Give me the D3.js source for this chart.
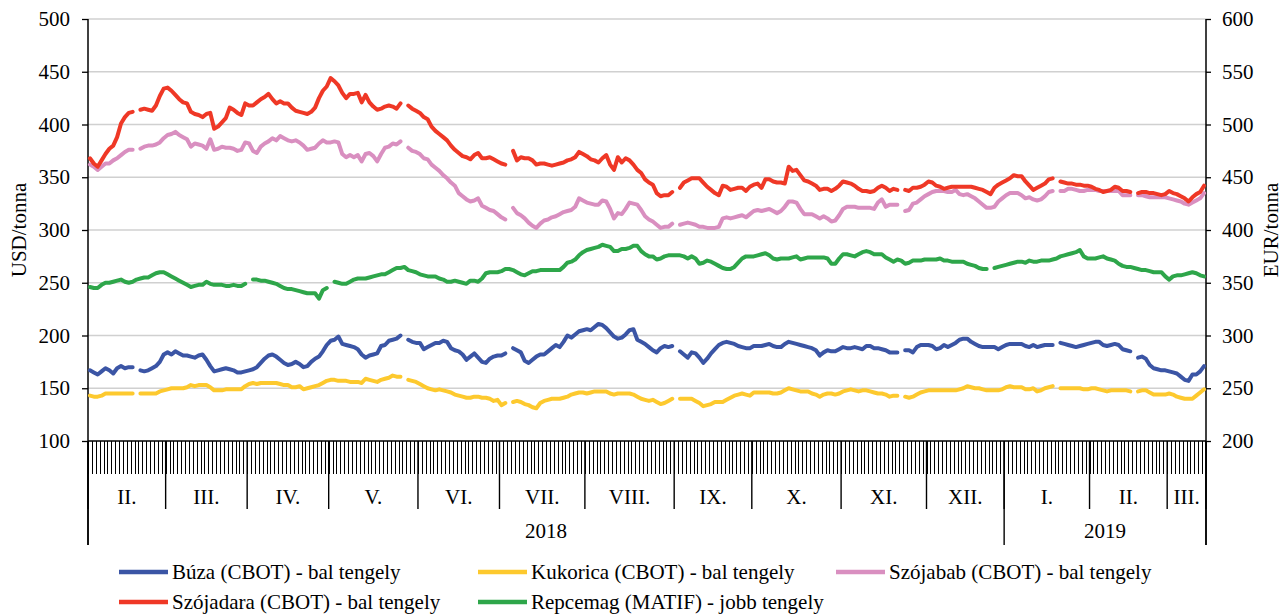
<!DOCTYPE html>
<html>
<head>
<meta charset="utf-8">
<script src="https://cdn.jsdelivr.net/npm/d3@7"></script>
<style>
body { margin: 0; background: #fff; }
text { font-family: "Liberation Serif", "Times New Roman", serif; fill: #000; }
</style>
</head>
<body>
<div id="display"></div>
<script>

// categories: trading days per month (Feb 2018 - mid Mar 2019)
var monthLabels = ["II.", "III.", "IV.", "V.", "VI.", "VII.", "VIII.", "IX.", "X.", "XI.", "XII.", "I.", "II.", "III."];
var monthDays = [20, 21, 21, 23, 21, 22, 23, 20, 23, 22, 20, 22, 20, 10];
var yearLabels = ["2018", "2019"];
var yearMonths = [11, 3];

var leftTicks = [100, 150, 200, 250, 300, 350, 400, 450, 500];
var rightTicks = [200, 250, 300, 350, 400, 450, 500, 550, 600];

// USD/tonna, daily, null = no quote
var buza = [
  167,165,163,166,169,167,164,169,171,169,170,170,null,167,166,167,169,171,175,182,
  184,182,185,183,181,181,180,179,181,182,177,171,166,167,168,169,168,167,165,165,166,
  167,168,170,174,178,181,182,180,177,174,172,173,175,173,170,171,175,178,180,185,191,
  195,196,199,192,191,190,189,187,182,179,181,182,183,190,191,195,196,197,200,null,196,194,193,
  193,187,189,191,193,193,195,194,188,186,185,182,177,180,183,179,175,174,178,180,181,
  181,183,null,188,186,184,176,174,177,180,182,182,185,188,191,189,194,200,198,201,204,205,
  206,205,208,211,210,207,203,199,197,198,201,205,206,196,194,192,189,186,184,188,190,189,190,
  null,185,182,179,184,183,179,174,178,183,187,191,193,194,193,192,190,189,188,188,
  190,190,190,191,192,190,189,189,192,194,193,192,191,190,189,188,186,181,184,186,185,185,187,
  189,188,188,189,188,187,190,190,188,188,187,186,184,184,184,null,186,186,184,189,191,191,
  191,190,187,188,191,189,191,193,196,197,197,194,192,190,189,189,189,189,187,189,
  191,192,192,192,192,190,189,191,189,190,191,191,191,null,193,192,191,190,189,190,191,192,
  193,194,194,191,190,191,192,191,187,186,185,null,179,180,178,172,169,168,167,167,
  166,165,164,161,158,157,163,163,166,171
];

var kukorica = [
  143,142,142,143,145,145,145,145,145,145,145,145,null,145,145,145,145,145,147,148,
  149,150,150,150,150,151,153,152,153,153,153,151,148,148,148,149,149,149,149,149,152,
  154,155,154,155,155,155,155,155,154,153,153,151,151,152,149,150,151,152,153,155,157,
  158,158,157,157,157,156,156,156,155,159,158,157,156,158,159,160,162,161,161,null,158,157,156,
  154,152,150,149,148,149,148,147,146,144,143,142,141,141,142,142,141,141,140,138,139,
  134,136,null,137,138,137,135,134,132,131,136,138,139,140,140,140,141,142,144,145,146,146,
  145,146,147,147,147,147,145,144,145,145,145,145,144,142,140,139,138,139,137,135,136,138,140,
  null,140,140,140,140,138,136,133,134,135,137,137,137,139,141,143,144,145,144,143,
  146,146,146,146,146,145,145,146,148,150,149,148,147,147,147,145,144,142,144,145,145,144,145,
  147,148,149,148,147,148,148,147,146,145,145,144,142,143,143,null,142,141,142,144,146,147,
  148,148,148,148,148,148,148,148,149,150,152,151,150,150,149,148,148,148,148,149,
  151,152,151,151,151,149,149,150,147,148,150,151,152,null,150,150,150,150,150,150,149,149,
  150,150,149,148,147,148,148,148,148,148,147,null,147,148,148,146,144,144,144,144,
  145,144,142,141,140,140,140,143,146,149
];

var szojabab = [
  362,360,357,360,363,363,366,368,371,374,376,376,null,377,379,380,380,381,383,387,
  390,391,393,390,388,386,379,382,381,380,377,386,376,377,379,378,378,377,375,376,383,
  382,375,373,379,382,384,387,385,389,387,385,384,385,383,380,376,377,378,382,385,383,
  383,384,383,372,369,371,369,371,365,372,373,370,365,372,378,379,382,381,384,null,378,375,374,
  372,368,367,362,359,356,352,349,345,342,335,332,329,327,328,330,323,321,319,318,315,
  312,310,null,321,316,314,311,307,304,302,306,309,310,312,313,315,317,318,319,322,330,328,
  326,325,324,324,328,327,320,311,316,315,320,326,325,324,319,313,310,308,305,302,303,303,306,
  null,305,306,307,306,305,303,303,302,302,302,303,311,312,311,312,313,314,312,315,
  318,319,318,319,320,318,316,318,322,327,327,326,320,315,315,315,313,311,313,311,308,309,314,
  320,322,322,322,321,321,321,321,320,326,329,322,324,324,324,null,318,319,325,326,329,332,
  334,336,337,337,337,336,336,338,334,333,334,332,330,327,324,321,321,322,327,330,
  333,335,335,335,333,330,331,329,328,329,332,336,337,null,337,337,339,339,338,337,337,338,
  338,338,337,337,337,337,337,337,333,333,333,null,333,333,332,331,331,331,331,331,
  330,329,328,327,325,324,326,328,330,335
];

var szojadara = [
  368,363,360,366,372,377,380,388,401,407,411,412,null,414,415,414,413,418,427,434,
  435,432,428,424,421,420,412,410,409,407,410,411,396,398,402,406,416,414,411,409,420,
  418,418,421,424,426,429,424,420,422,420,420,416,413,412,411,410,412,416,425,432,436,
  444,441,437,430,425,429,429,430,421,428,421,417,414,415,417,418,417,415,420,null,418,415,413,
  411,407,405,398,394,391,388,385,380,376,373,370,369,367,371,373,368,368,369,367,365,
  363,362,null,375,366,369,368,368,366,362,363,363,362,361,362,363,364,366,367,369,374,372,
  370,367,366,364,368,371,362,357,369,364,368,366,362,357,354,348,345,343,335,332,333,333,336,
  null,340,345,347,349,349,349,345,341,338,335,333,342,341,338,339,340,340,337,341,
  343,344,340,348,348,346,345,345,344,360,356,357,352,347,346,344,342,338,339,339,337,339,342,
  346,345,344,342,339,337,337,336,337,340,342,340,337,339,338,null,338,337,340,340,341,343,
  346,345,342,341,339,340,341,341,341,341,341,341,340,339,338,336,334,340,343,345,
  347,349,352,351,351,346,342,338,340,342,344,348,349,null,346,345,344,344,343,343,342,342,
  341,339,338,336,337,338,341,340,337,337,336,null,335,336,336,335,335,334,333,334,
  337,335,334,332,330,327,331,334,336,342
];

// EUR/tonna (right axis)
var repcemag = [
  346,345,345,348,350,350,351,352,353,351,350,351,353,354,355,355,357,359,360,360,
  358,356,354,352,350,348,346,347,348,348,351,349,348,348,348,347,347,348,347,347,349,
  null,353,353,352,352,351,350,349,347,345,344,344,343,342,341,340,340,340,335,343,345,
  null,351,350,349,349,351,353,354,354,354,355,356,357,358,358,360,362,364,364,365,362,361,360,
  358,357,356,356,356,354,353,351,351,352,351,350,349,352,352,351,354,359,360,360,360,
  361,363,363,362,360,358,357,359,361,361,362,362,362,362,362,362,365,369,370,372,376,379,
  381,382,383,384,386,385,384,380,380,382,382,383,385,385,380,377,375,375,372,373,375,376,376,
  376,376,375,373,375,373,368,369,371,370,368,366,364,363,363,365,369,373,375,375,
  375,376,377,378,376,373,372,373,373,373,374,375,372,373,374,374,374,374,374,373,368,368,373,
  377,377,376,375,377,379,380,379,377,377,377,374,372,370,372,371,368,369,371,371,371,372,
  372,372,372,373,371,371,370,370,370,370,368,367,366,364,363,363,null,364,365,366,
  367,368,369,370,370,369,371,370,370,371,371,371,372,373,375,376,377,378,379,381,375,373,
  373,373,374,375,373,372,371,368,366,365,365,364,363,362,362,361,360,360,360,356,
  353,356,357,357,358,359,360,359,357,356
];

var seriesNames = ["Búza (CBOT) - bal tengely", "Kukorica (CBOT) - bal tengely", "Szójabab (CBOT) - bal tengely",
                   "Szójadara (CBOT) - bal tengely", "Repcemag (MATIF) - jobb tengely"];
var seriesColors = ["#3b55a5", "#fdc92e", "#d98fc0", "#ef3826", "#2ea64a"];

var W = 1285, H = 614;
var plotL = 88, plotR = 1206, plotT = 19, plotB = 441;

var N = d3.sum(monthDays);
var x = d3.scaleBand().domain(d3.range(N)).range([plotL, plotR]);
var yL = d3.scaleLinear().domain([100, 500]).range([plotB, plotT]);
var yR = d3.scaleLinear().domain([200, 600]).range([plotB, plotT]);

var svg = d3.select("#display").append("svg")
    .attr("width", W)
    .attr("height", H);

//gridlines
svg.append("g").selectAll("line")
    .data(leftTicks.filter(function(d) { return d > 100; }))
    .enter().append("line")
    .attr("x1", plotL).attr("x2", plotR)
    .attr("y1", function(d) { return yL(d); })
    .attr("y2", function(d) { return yL(d); })
    .attr("stroke", "#d0d0d0")
    .attr("stroke-width", 1.5);

//axes
var yaxis = d3.axisLeft(yL).tickValues(leftTicks).tickSize(6).tickPadding(12);
var yaxisR = d3.axisRight(yR).tickValues(rightTicks).tickSize(5).tickPadding(11);

var gL = svg.append("g").attr("transform", "translate(" + plotL + ",0)").call(yaxis);
var gR = svg.append("g").attr("transform", "translate(" + plotR + ",0)").call(yaxisR);
[gL, gR].forEach(function(g) {
    g.select(".domain").remove();
    g.attr("font-size", null).attr("font-family", null);
    g.selectAll("text").style("font-size", "21px");
    g.selectAll("line").attr("stroke", "#000").attr("stroke-width", 1.3);
});

// vertical axis lines run down through the category rows
svg.append("line").attr("x1", plotL).attr("x2", plotL).attr("y1", plotT).attr("y2", 545)
    .attr("stroke", "#000").attr("stroke-width", 1.5);
svg.append("line").attr("x1", plotR).attr("x2", plotR).attr("y1", plotT).attr("y2", 545)
    .attr("stroke", "#000").attr("stroke-width", 1.5);
svg.append("line").attr("x1", plotL).attr("x2", plotR).attr("y1", plotB).attr("y2", plotB)
    .attr("stroke", "#000").attr("stroke-width", 1.5);

//day ticks
var edges = d3.range(N).map(function(i) { return x(i); }).concat([plotR]);
svg.append("g").selectAll("line")
    .data(edges)
    .enter().append("line")
    .attr("x1", function(d) { return Math.round(d) + 0.5; })
    .attr("x2", function(d) { return Math.round(d) + 0.5; })
    .attr("y1", plotB).attr("y2", 474)
    .attr("stroke", "#000").attr("stroke-width", 1)
    .attr("shape-rendering", "crispEdges");

//month separators and labels
var mStart = [0];
monthDays.forEach(function(d, i) { mStart.push(mStart[i] + d); });
function edgeX(k) { return k < N ? x(k) : plotR; }

svg.append("g").selectAll("line")
    .data(mStart)
    .enter().append("line")
    .attr("x1", function(d) { return edgeX(d); })
    .attr("x2", function(d) { return edgeX(d); })
    .attr("y1", plotB).attr("y2", 509)
    .attr("stroke", "#000").attr("stroke-width", 1.4);

svg.append("g").selectAll("text")
    .data(monthLabels)
    .enter().append("text")
    .attr("x", function(d, i) { return (edgeX(mStart[i]) + edgeX(mStart[i + 1])) / 2; })
    .attr("y", 497)
    .attr("dy", "0.35em")
    .attr("text-anchor", "middle")
    .style("font-size", "21px")
    .text(function(d) { return d; });

//years
var yStart = [0];
yearMonths.forEach(function(d, i) { yStart.push(yStart[i] + d); });
svg.append("g").selectAll("line")
    .data(yStart)
    .enter().append("line")
    .attr("x1", function(d) { return edgeX(mStart[d]); })
    .attr("x2", function(d) { return edgeX(mStart[d]); })
    .attr("y1", plotB).attr("y2", 545)
    .attr("stroke", "#000").attr("stroke-width", 1.4);

svg.append("g").selectAll("text")
    .data(yearLabels)
    .enter().append("text")
    .attr("x", function(d, i) { return (edgeX(mStart[yStart[i]]) + edgeX(mStart[yStart[i + 1]])) / 2; })
    .attr("y", 531)
    .attr("dy", "0.35em")
    .attr("text-anchor", "middle")
    .style("font-size", "21px")
    .text(function(d) { return d; });

//axis titles
svg.append("text")
    .attr("transform", "translate(19," + ((plotT + plotB) / 2) + ") rotate(-90)")
    .attr("dy", "0.35em")
    .attr("text-anchor", "middle")
    .style("font-size", "21px")
    .text("USD/tonna");
svg.append("text")
    .attr("transform", "translate(1271," + ((plotT + plotB) / 2) + ") rotate(-90)")
    .attr("dy", "0.35em")
    .attr("text-anchor", "middle")
    .style("font-size", "21px")
    .text("EUR/tonna");

//lines
var allSeries = [buza, kukorica, szojabab, szojadara, repcemag];
allSeries.forEach(function(vals, s) {
    var ys = s == 4 ? yR : yL;
    var line = d3.line()
        .defined(function(d) { return d != null; })
        .x(function(d, i) { return x(i) + x.bandwidth() / 2; })
        .y(function(d) { return ys(d); });
    svg.append("path")
        .datum(vals)
        .attr("d", line)
        .attr("fill", "none")
        .attr("stroke", seriesColors[s])
        .attr("stroke-width", 4)
        .attr("stroke-linejoin", "round")
        .attr("stroke-linecap", "round");
});

//legend
var legendPos = [[119, 572], [478, 572], [836, 572], [119, 602], [478, 602]];
var lg = svg.append("g").selectAll("g")
    .data(seriesNames)
    .enter().append("g")
    .attr("transform", function(d, i) { return "translate(" + legendPos[i][0] + "," + legendPos[i][1] + ")"; });
lg.append("line")
    .attr("x1", 0).attr("x2", 49).attr("y1", 0).attr("y2", 0)
    .attr("stroke", function(d, i) { return seriesColors[i]; })
    .attr("stroke-width", 4.5);
lg.append("text")
    .attr("x", 53)
    .attr("dy", "0.35em")
    .style("font-size", "21px")
    .text(function(d) { return d; });

</script>
</body>
</html>
